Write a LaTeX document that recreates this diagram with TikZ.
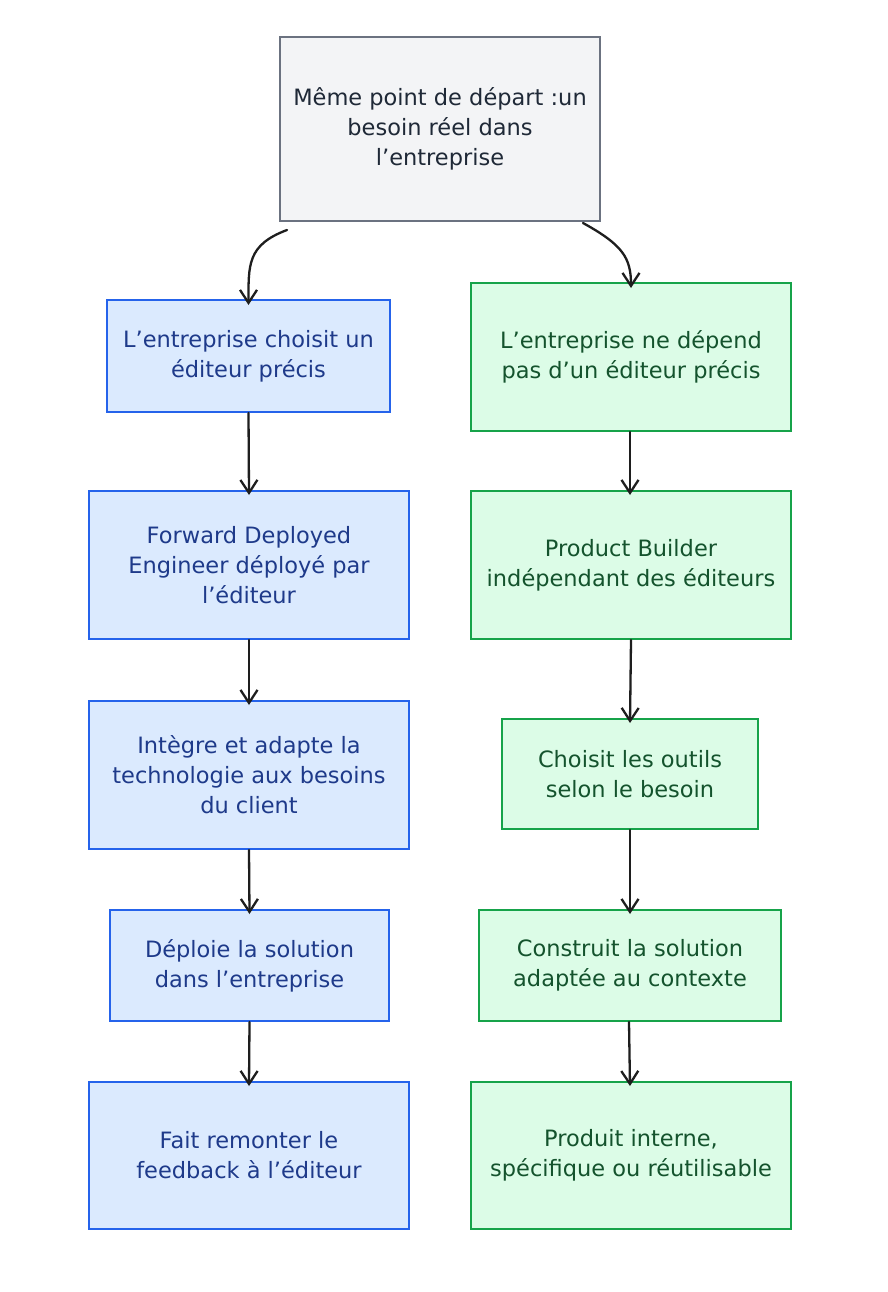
\documentclass[tikz,border=0pt]{standalone}
\usepackage{fontspec}
\setmainfont{DejaVu Sans}
\usetikzlibrary{arrows.meta}
\definecolor{bfill}{HTML}{DBEAFE}
\definecolor{bdraw}{HTML}{2563EB}
\definecolor{btext}{HTML}{1E3A8A}
\definecolor{gfill}{HTML}{DCFCE7}
\definecolor{gdraw}{HTML}{16A34A}
\definecolor{gtext}{HTML}{14532D}
\definecolor{tfill}{HTML}{F3F4F6}
\definecolor{tdraw}{HTML}{6B7280}
\definecolor{ttext}{HTML}{1F2937}
\definecolor{arr}{HTML}{1E1E1E}
\tikzset{
  box/.style={rectangle, line width=2pt, inner sep=0pt, align=center, font=\fontsize{22.5}{30}\selectfont},
  bluebox/.style={box, fill=bfill, draw=bdraw, text=btext},
  greenbox/.style={box, fill=gfill, draw=gdraw, text=gtext},
  topbox/.style={box, fill=tfill, draw=tdraw, text=ttext},
  link/.style={draw=arr, line width=2.3pt, line cap=round, -{Straight Barb[length=13pt,width=17pt,line width=2.3pt]}}
}
\begin{document}
\begin{tikzpicture}[x=1pt,y=-1pt]
\useasboundingbox[fill=white] (0,0) rectangle (888,1292);
\node[topbox, minimum width=320pt, minimum height=184pt] (top) at (440,129) {Même point de départ :un\\besoin réel dans\\l’entreprise};
% left
\node[bluebox, minimum width=283pt, minimum height=112pt] (l1) at (248.5,356) {L’entreprise choisit un\\éditeur précis};
\node[bluebox, minimum width=320pt, minimum height=148pt] (l2) at (249,565) {Forward Deployed\\Engineer déployé par\\l’éditeur};
\node[bluebox, minimum width=320pt, minimum height=148pt] (l3) at (249,775) {Intègre et adapte la\\technologie aux besoins\\du client};
\node[bluebox, minimum width=279pt, minimum height=111pt] (l4) at (249.5,965.5) {Déploie la solution\\dans l’entreprise};
\node[bluebox, minimum width=320pt, minimum height=147pt] (l5) at (249,1155.5) {Fait remonter le\\feedback à l’éditeur};
% right
\node[greenbox, minimum width=320pt, minimum height=148pt] (r1) at (631,357) {L’entreprise ne dépend\\pas d’un éditeur précis};
\node[greenbox, minimum width=320pt, minimum height=148pt] (r2) at (631,565) {Product Builder\\indépendant des éditeurs};
\node[greenbox, minimum width=256pt, minimum height=110pt] (r3) at (630,774) {Choisit les outils\\selon le besoin};
\node[greenbox, minimum width=302pt, minimum height=111pt] (r4) at (630,965.5) {Construit la solution\\adaptée au contexte};
\node[greenbox, minimum width=320pt, minimum height=147pt] (r5) at (631,1155.5) {Produit interne,\\spécifique ou réutilisable};
% connectors
\draw[link] ([xshift=-153pt,yshift=-8pt]top.south) .. controls +(-40,15) and +(0,-40) .. ([yshift=-6pt]l1.north);
\draw[link] ([xshift=143pt,yshift=-1pt]top.south) .. controls +(40,22) and +(0,-30) .. ([yshift=-6pt]r1.north);
\draw[link] (l1.south) -- ([yshift=-5pt]l2.north);
\draw[link] (l2.south) -- ([yshift=-5pt]l3.north);
\draw[link] (l3.south) -- ([yshift=-5pt]l4.north);
\draw[link] (l4.south) -- ([yshift=-5pt]l5.north);
\draw[link] ([xshift=-1pt]r1.south) -- ([xshift=-1pt,yshift=-5pt]r2.north);
\draw[link] (r2.south) -- ([yshift=-5pt]r3.north);
\draw[link] (r3.south) -- ([yshift=-5pt]r4.north);
\draw[link] ([xshift=-1pt]r4.south) -- ([xshift=-1pt,yshift=-5pt]r5.north);
\end{tikzpicture}
\end{document}
